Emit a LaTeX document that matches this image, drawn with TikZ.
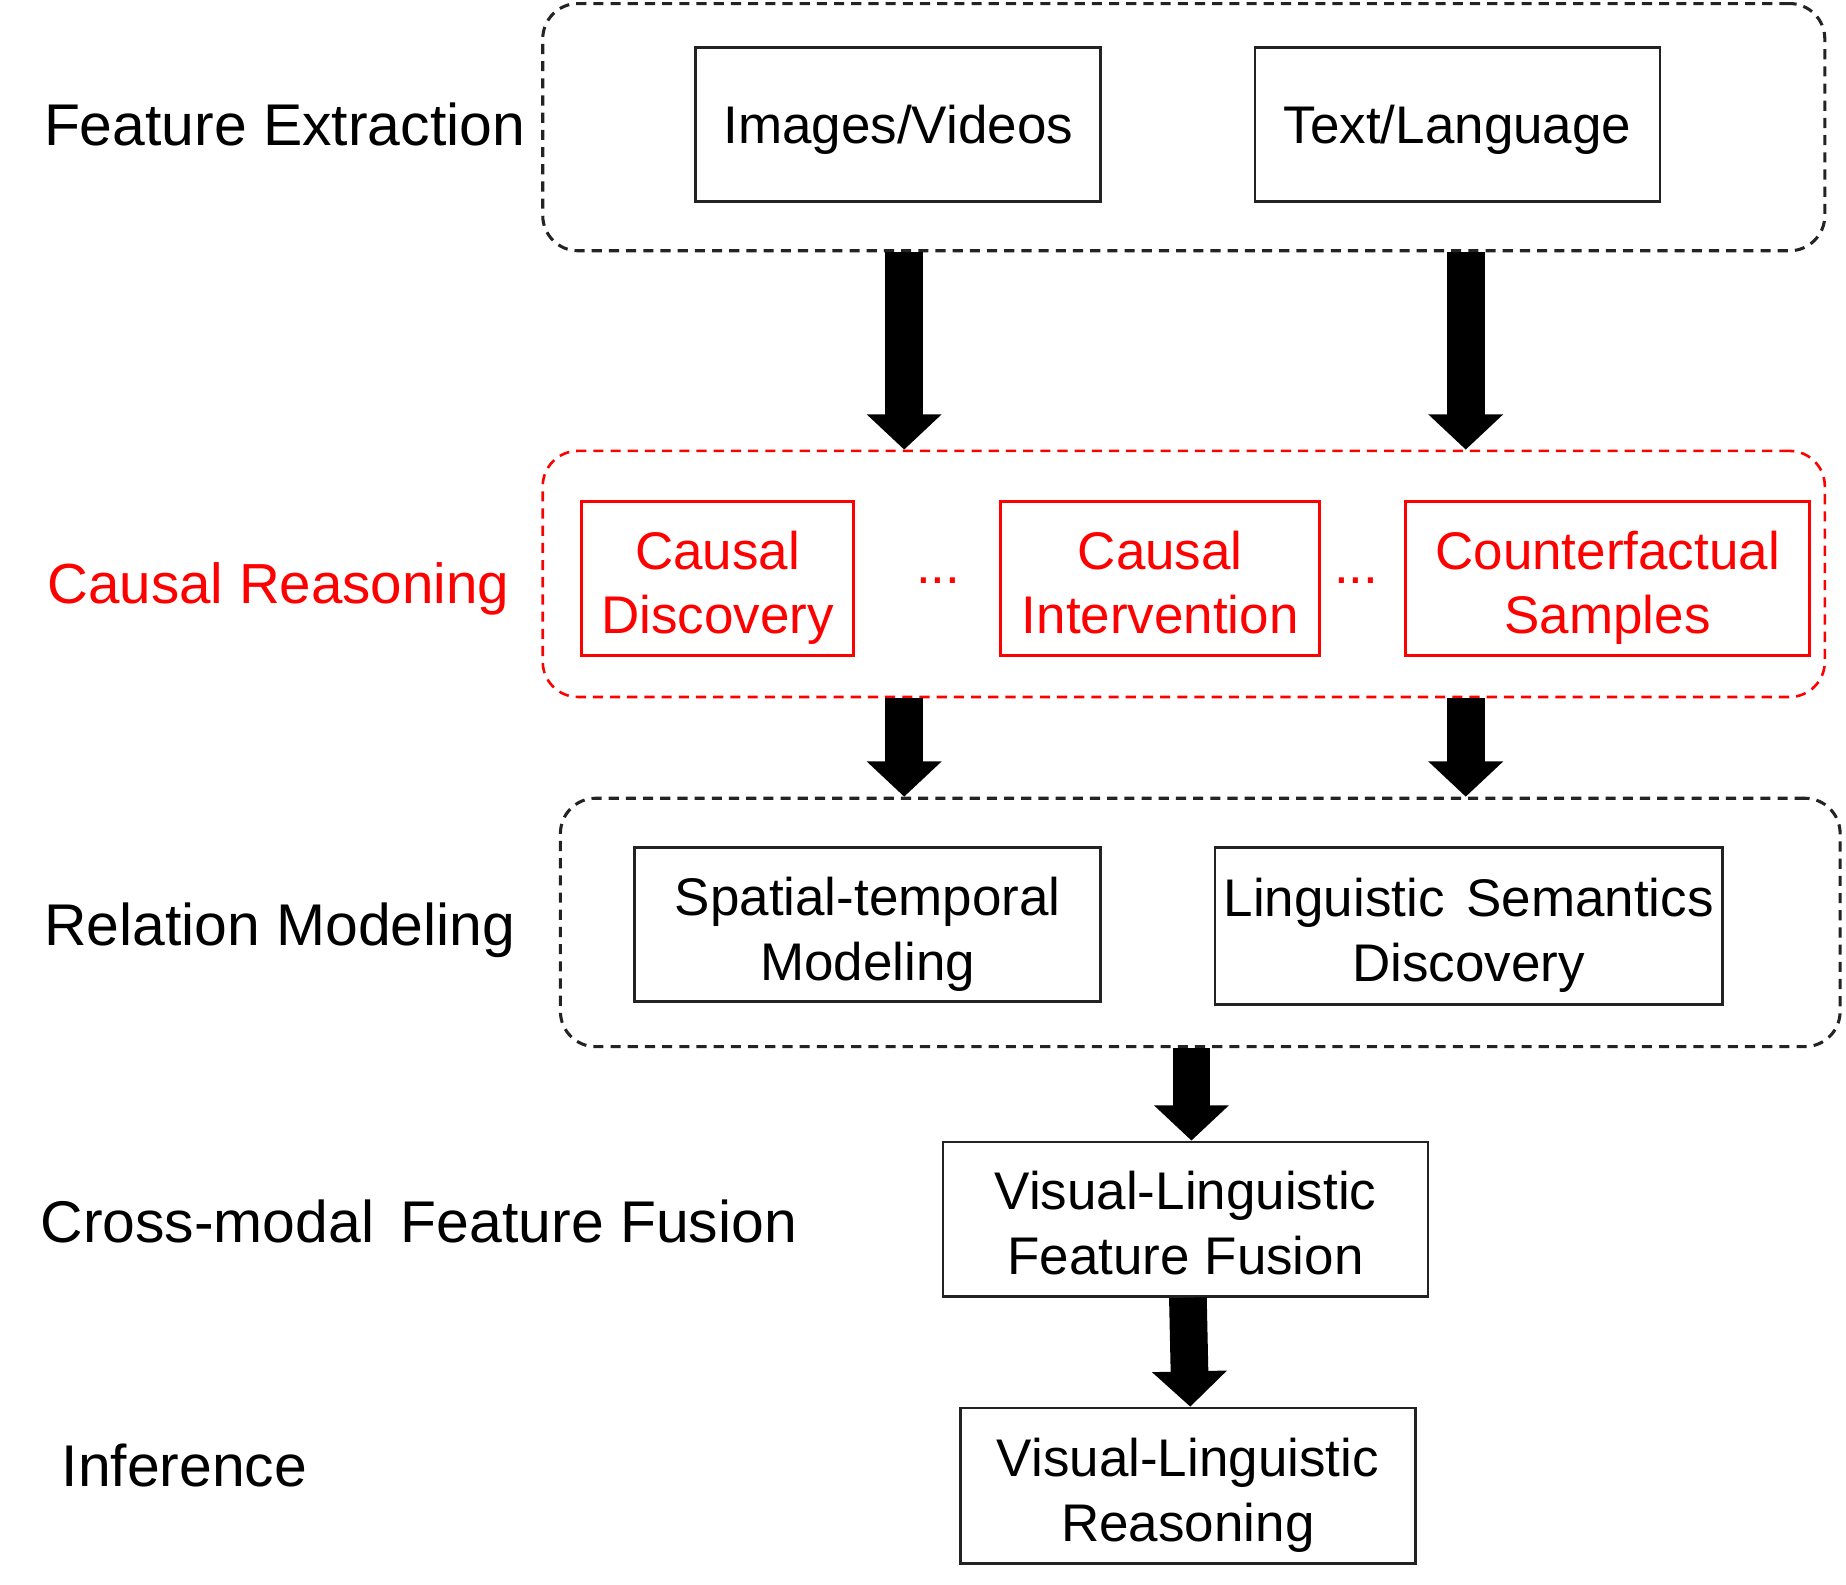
\documentclass[tikz,border=0pt]{standalone}
\usepackage{fontspec}
\setmainfont{Liberation Sans}
\usepackage{tikz}
\usetikzlibrary{arrows.meta,positioning,fit}
\definecolor{causal}{RGB}{255,0,0}
\definecolor{edge}{RGB}{35,35,35}

\begin{document}
\begin{tikzpicture}[x=0.5pt, y=-0.5pt,
    block/.style={rectangle, draw=edge, line width=1.2pt, align=center, inner sep=0pt, minimum height=65.5pt,
        font=\fontsize{22.5}{27.5}\selectfont, text height=#1, text depth=5pt},
    block/.default=52pt,
    redblock/.style={block, draw=causal, text=causal},
    group/.style={rectangle, draw=edge, line width=1.3pt, dash pattern=on 4.3pt off 3pt, rounded corners=15pt, inner sep=0pt},
    redgroup/.style={group, draw=causal, line width=1.1pt},
    stage/.style={anchor=base west, inner sep=0pt, font=\fontsize{25}{30}\selectfont},
    flow/.style={line width=16pt, -{Triangle[width=31pt, length=15pt]}}
]
    \useasboundingbox (0,0) rectangle (1568,1346);

    \node[group, fit={(461,3) (1550,213)}] (fe) {};
    \node[redgroup, fit={(461,383) (1550,592)}] (cr) {};
    \node[group, fit={(476,678) (1563,889)}] (rm) {};

    \node[stage] (lfe) at (37,124) {Feature Extraction};
    \node[stage, text=causal, font=\fontsize{24}{29}\selectfont] (lcr) at (40,513) {Causal Reasoning};
    \node[stage] (lrm) at (37,803) {Relation Modeling};
    \node[stage] (lcf) at (34,1055) {Cross-modal\hspace{4.5pt} Feature Fusion};
    \node[stage] (lin) at (52,1263) {Inference};

    \node[block=21.5pt, minimum width=172pt] (img) at (763,105.5) {Images/Videos};
    \node[block=21.5pt, minimum width=172pt] (txt) at (1238,105.5) {Text/Language};

    \node[redblock, minimum width=115.5pt] (cd) at (609.5,491.5) {Causal\\Discovery};
    \node[redblock, minimum width=135.5pt] (ci) at (985.5,491.5) {Causal\\Intervention};
    \node[redblock, minimum width=171.5pt] (cs) at (1365.5,491.5) {Counterfactual\\Samples};
    \node[text=causal, font=\fontsize{22.5}{27.5}\selectfont, inner sep=0pt] (d1) at (797,493) {...};
    \node[text=causal, font=\fontsize{22.5}{27.5}\selectfont, inner sep=0pt] (d2) at (1152,493) {...};

    \node[block, minimum width=198pt] (stm) at (737,785.5) {Spatial-temporal\\Modeling};
    \node[block, minimum width=215.5pt, minimum height=66.5pt] (lsd) at (1247.5,786.5) {Linguistic\hspace{3pt} Semantics\\Discovery};

    \node[block, minimum width=206pt] (vlf) at (1007,1035.5) {Visual-Linguistic\\Feature Fusion};
    \node[block, minimum width=193pt, minimum height=66pt] (vlr) at (1009,1262) {Visual-Linguistic\\Reasoning};

    \draw[flow] ([xshift=2.5pt]fe.south -| img) -- ([xshift=2.5pt]cr.north -| img);
    \draw[flow] ([xshift=3.5pt]fe.south -| txt) -- ([xshift=3.5pt]cr.north -| txt);
    \draw[flow] ([xshift=2.5pt]cr.south -| img) -- ([xshift=2.5pt]rm.north -| img);
    \draw[flow] ([xshift=3.5pt]cr.south -| txt) -- ([xshift=3.5pt]rm.north -| txt);
    \draw[flow] ([xshift=2.5pt]rm.south -| vlf) -- ([xshift=2.5pt]vlf.north);
    \draw[flow] ([xshift=1pt]vlf.south) -- ([xshift=1pt]vlr.north);
\end{tikzpicture}
\end{document}
